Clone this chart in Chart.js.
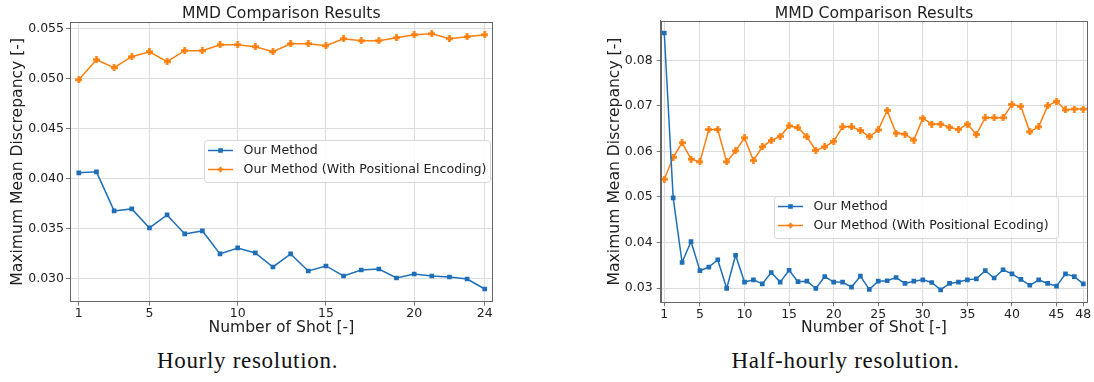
<!DOCTYPE html>
<html>
<head>
<meta charset="utf-8">
<title>MMD Comparison Results</title>
<script src="https://cdn.jsdelivr.net/npm/chart.js@4.4.1/dist/chart.umd.min.js"></script>
<style>
  html, body { margin: 0; padding: 0; background: #fff; width: 1094px; height: 382px; overflow: hidden; }
  .panel { position: absolute; top: 0; height: 345px; }
  #hourlyBox { left: 0; width: 530px; }
  #halfBox { left: 595px; width: 499px; }
  .caption {
    position: absolute; top: 348.7px; line-height: 23px;
    font-family: "Liberation Serif", "DejaVu Serif", serif; font-size: 23px;
    letter-spacing: 0.7px; color: #111; white-space: nowrap; transform: translateX(-50%);
  }
</style>
</head>
<body>
<div class="panel" id="hourlyBox"><canvas id="hourly"></canvas></div>
<div class="panel" id="halfBox"><canvas id="half"></canvas></div>
<div class="caption" style="left:247.5px">Hourly resolution.</div>
<div class="caption" style="left:845.5px">Half-hourly resolution.</div>

<script>
// ---- Hourly resolution ----
const hourlyShots = [1, 2, 3, 4, 5, 6, 7, 8, 9, 10, 11, 12, 13, 14, 15, 16, 17, 18, 19, 20, 21, 22, 23, 24];
const hourlyOurMethod = [0.0406, 0.0407, 0.0368, 0.0370, 0.0351, 0.0364, 0.0345, 0.0348, 0.0325, 0.0331, 0.0326, 0.0312,
                         0.0325, 0.0308, 0.0313, 0.0303, 0.0309, 0.0310, 0.0301, 0.0305, 0.0303, 0.0302, 0.0300, 0.0290];
const hourlyWithPE = [0.0499, 0.0519, 0.0511, 0.0522, 0.0527, 0.0517, 0.0528, 0.0528, 0.0534, 0.0534, 0.0532, 0.0527,
                      0.0535, 0.0535, 0.0533, 0.0540, 0.0538, 0.0538, 0.0541, 0.0544, 0.0545, 0.0540, 0.0542, 0.0544];
const hourlyXTicks = [1, 5, 10, 15, 20, 24];
const hourlyYTicks = [0.030, 0.035, 0.040, 0.045, 0.050, 0.055];

// ---- Half-hourly resolution ----
const halfShots = [1, 2, 3, 4, 5, 6, 7, 8, 9, 10, 11, 12, 13, 14, 15, 16, 17, 18, 19, 20, 21, 22, 23, 24,
                   25, 26, 27, 28, 29, 30, 31, 32, 33, 34, 35, 36, 37, 38, 39, 40, 41, 42, 43, 44, 45, 46, 47, 48];
const halfOurMethod = [0.0860, 0.0498, 0.0356, 0.0402, 0.0338, 0.0346, 0.0362, 0.0299, 0.0372, 0.0313, 0.0318, 0.0309,
                       0.0334, 0.0313, 0.0339, 0.0314, 0.0315, 0.0299, 0.0325, 0.0313, 0.0313, 0.0302, 0.0326, 0.0297,
                       0.0315, 0.0316, 0.0323, 0.0310, 0.0315, 0.0318, 0.0312, 0.0296, 0.0310, 0.0313, 0.0318, 0.0320,
                       0.0338, 0.0322, 0.0340, 0.0331, 0.0319, 0.0306, 0.0318, 0.0310, 0.0304, 0.0331, 0.0325, 0.0309];
const halfWithPE = [0.0539, 0.0587, 0.0619, 0.0583, 0.0577, 0.0648, 0.0648, 0.0577, 0.0601, 0.0630, 0.0580, 0.0610,
                    0.0624, 0.0633, 0.0656, 0.0652, 0.0632, 0.0602, 0.0610, 0.0622, 0.0654, 0.0654, 0.0646, 0.0632,
                    0.0647, 0.0690, 0.0640, 0.0638, 0.0625, 0.0673, 0.0660, 0.0660, 0.0653, 0.0648, 0.0660, 0.0637,
                    0.0674, 0.0674, 0.0674, 0.0703, 0.0699, 0.0643, 0.0654, 0.0700, 0.0710, 0.0691, 0.0693, 0.0693];
const halfXTicks = [1, 5, 10, 15, 20, 25, 30, 35, 40, 45, 48];
const halfYTicks = [0.03, 0.04, 0.05, 0.06, 0.07, 0.08];

const BLUE = '#1f6fb8';
const ORANGE = '#ff7f0e';
const FONT = '"DejaVu Sans", "Liberation Sans", sans-serif';

// Filled "plus" marker used for the positional-encoding series
function plusMarker(size, thick, color) {
  const c = document.createElement('canvas');
  c.width = size; c.height = size;
  const g = c.getContext('2d');
  g.fillStyle = color;
  const o = (size - thick) / 2;
  g.fillRect(0, o, size, thick);
  g.fillRect(o, 0, thick, size);
  return c;
}
const plusImg = plusMarker(7, 2.6, ORANGE);

// Frame around the plot area, title above it and a boxed legend inside it
const panelDecor = {
  id: 'panelDecor',
  afterDraw(chart, args, opts) {
    const ctx = chart.ctx, area = chart.chartArea;
    ctx.save();
    ctx.strokeStyle = '#666';
    ctx.lineWidth = 1;
    ctx.strokeRect(Math.round(area.left) + 0.5, Math.round(area.top) + 0.5,
                   Math.round(area.right - area.left) - 1, Math.round(area.bottom - area.top) - 1);

    ctx.font = '15.6px ' + FONT;
    ctx.fillStyle = '#222';
    ctx.textAlign = 'center';
    ctx.textBaseline = 'alphabetic';
    ctx.fillText(opts.title, (area.left + area.right) / 2, opts.titleBaseline);

    const b = opts.legendBox;
    ctx.beginPath();
    ctx.roundRect(b.x + 0.5, b.y + 0.5, b.w, b.h, 3);
    ctx.fillStyle = 'rgba(255,255,255,0.85)';
    ctx.fill();
    ctx.strokeStyle = '#d6d6d6';
    ctx.lineWidth = 1;
    ctx.stroke();

    ctx.font = '12.6px ' + FONT;
    ctx.textAlign = 'left';
    ctx.textBaseline = 'middle';
    chart.data.datasets.forEach((ds, i) => {
      const y = b.y + 10.5 + i * 19;
      ctx.strokeStyle = ds.borderColor;
      ctx.lineWidth = 1.5;
      ctx.beginPath();
      ctx.moveTo(b.x + 4, y);
      ctx.lineTo(b.x + 29, y);
      ctx.stroke();
      ctx.fillStyle = ds.borderColor;
      const mx = b.x + 16.5;
      if (ds.pointStyle === 'rect') {
        ctx.fillRect(mx - 2.3, y - 2.3, 4.6, 4.6);
      } else {
        ctx.fillRect(mx - 2.8, y - 1, 5.6, 2);
        ctx.fillRect(mx - 1, y - 2.8, 2, 5.6);
      }
      ctx.fillStyle = '#222';
      ctx.fillText(ds.label, b.x + 39.5, y + 0.5);
    });
    ctx.restore();
  }
};

function pts(xs, ys) { return xs.map((x, i) => ({ x: x, y: ys[i] })); }

function makeChart(id, cfg) {
  const gridCommon = { color: '#dcdcdc', lineWidth: 1, drawTicks: true, tickLength: 4, tickColor: '#777' };
  const borderCommon = { display: true, color: '#666', width: 1 };
  return new Chart(document.getElementById(id), {
    type: 'line',
    data: {
      datasets: [
        {
          label: 'Our Method',
          data: pts(cfg.shots, cfg.ours),
          borderColor: BLUE, backgroundColor: BLUE,
          borderWidth: 1.5, pointStyle: 'rect', pointRadius: 3.3, pointBorderWidth: 0,
          tension: 0
        },
        {
          label: cfg.peLabel,
          data: pts(cfg.shots, cfg.pe),
          borderColor: ORANGE, backgroundColor: ORANGE,
          borderWidth: 1.5, pointStyle: plusImg, pointRadius: 3.5,
          tension: 0
        }
      ]
    },
    options: {
      responsive: true, maintainAspectRatio: false, animation: false, devicePixelRatio: 1,
      layout: { padding: { top: cfg.padTop, right: cfg.padRight, left: 0, bottom: 0 } },
      plugins: {
        legend: { display: false }, title: { display: false }, tooltip: { enabled: false },
        panelDecor: { title: 'MMD Comparison Results', titleBaseline: cfg.titleBaseline, legendBox: cfg.legendBox }
      },
      scales: {
        x: {
          type: 'linear', min: cfg.xMin, max: cfg.xMax,
          afterBuildTicks: s => { s.ticks = cfg.xTicks.map(v => ({ value: v })); },
          afterFit: s => { s.height = cfg.xAxisHeight; },
          ticks: { font: { family: FONT, size: 12.5 }, color: '#222', padding: 1, maxRotation: 0, autoSkip: false,
                   callback: v => String(v) },
          grid: gridCommon, border: borderCommon,
          title: { display: true, text: 'Number of Shot [-]', color: '#222',
                   font: { family: FONT, size: 15.6 }, padding: { top: 0, bottom: 7.3 } }
        },
        y: {
          min: cfg.yMin, max: cfg.yMax,
          afterBuildTicks: s => { s.ticks = cfg.yTicks.map(v => ({ value: v })); },
          afterFit: s => { s.width = cfg.yAxisWidth; },
          ticks: { font: { family: FONT, size: 12.5 }, color: '#222', padding: cfg.yTickPad, autoSkip: false,
                   callback: v => v.toFixed(cfg.yDigits) },
          grid: gridCommon, border: borderCommon,
          title: { display: true, text: 'Maximum Mean Discrepancy [-]', color: '#222',
                   font: { family: FONT, size: 15.6 }, padding: { top: cfg.yTitlePad, bottom: 0 } }
        }
      }
    },
    plugins: [panelDecor]
  });
}

makeChart('hourly', {
  shots: hourlyShots, ours: hourlyOurMethod, pe: hourlyWithPE,
  peLabel: 'Our Method (With Positional Encoding)',
  xTicks: hourlyXTicks, yTicks: hourlyYTicks, yDigits: 3,
  xMin: 0.5, xMax: 24.45, yMin: 0.02773, yMax: 0.05567,
  padTop: 22, padRight: 37.3, xAxisHeight: 43.3, yAxisWidth: 70,
  yTickPad: 2, yTitlePad: 8.6, titleBaseline: 17.5,
  legendBox: { x: 204, y: 140, w: 286, h: 42 }
});

makeChart('half', {
  shots: halfShots, ours: halfOurMethod, pe: halfWithPE,
  peLabel: 'Our Method (With Positional Ecoding)',
  xTicks: halfXTicks, yTicks: halfYTicks, yDigits: 2,
  xMin: 0.6, xMax: 48.45, yMin: 0.02686, yMax: 0.0887,
  padTop: 20.7, padRight: 6.7, xAxisHeight: 42.7, yAxisWidth: 65.7,
  yTickPad: 4, yTitlePad: 10.6, titleBaseline: 17.5,
  legendBox: { x: 179, y: 196, w: 284, h: 42 }
});
</script>
</body>
</html>
